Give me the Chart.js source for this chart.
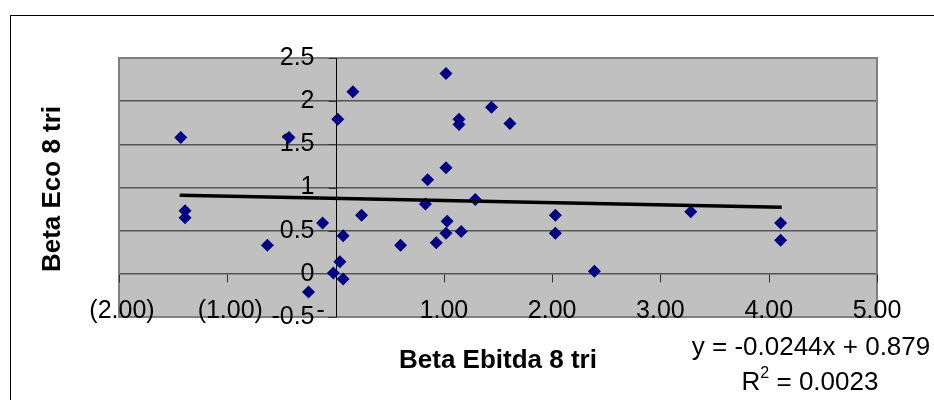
<!DOCTYPE html>
<html>
<head>
<meta charset="utf-8">
<title>Beta Eco x Beta Ebitda</title>
<script src="https://cdn.jsdelivr.net/npm/chart.js@4.4.1/dist/chart.umd.min.js"></script>
<style>
  html, body { margin: 0; padding: 0; background: #fff; }
  #wrap { width: 934px; height: 400px; }
</style>
</head>
<body>
<div id="wrap"><canvas id="betaChart" width="934" height="400"></canvas></div>
<script>
// Data
const betaEbitda = [-1.43, -0.43, 0.02, 0.16, -1.39, -1.39, -0.63, -0.12, -0.25, 0.07, 0.24, 0.04,
  -0.02, 0.07, 1.02, 1.44, 1.14, 1.14, 1.61, 1.02, 0.85, 0.83, 1.29, 0.60, 1.03, 1.02, 0.93, 1.16,
  2.03, 2.03, 2.39, 3.28, 4.11, 4.11];
const betaEco = [1.58, 1.58, 1.79, 2.11, 0.73, 0.65, 0.33, 0.59, -0.21, 0.44, 0.68, 0.14,
  0.01, -0.06, 2.32, 1.93, 1.79, 1.73, 1.74, 1.23, 1.09, 0.81, 0.86, 0.33, 0.61, 0.47, 0.36, 0.49,
  0.68, 0.47, 0.03, 0.72, 0.59, 0.39];

// Linear trendline end points (as drawn)
const trendX = [-1.44, 4.12];
const trendY = [0.91, 0.77];

const xTicks = [-2, -1, 0, 1, 2, 3, 4, 5];
const xTickLabels = ["(2.00)", "(1.00)", "-", "1.00", "2.00", "3.00", "4.00", "5.00"];
const yTicks = [-0.5, 0, 0.5, 1, 1.5, 2, 2.5];
const yTickLabels = ["-0.5", "0", "0.5", "1", "1.5", "2", "2.5"];

const xTitle = "Beta Ebitda 8 tri";
const yTitle = "Beta Eco 8 tri";
const equation = "y = -0.0244x + 0.879";
const r2Value = "0.0023";

const FONT = '"Liberation Sans", Arial, sans-serif';

function line(ctx, x1, y1, x2, y2) {
  ctx.beginPath();
  ctx.moveTo(x1, y1);
  ctx.lineTo(x2, y2);
  ctx.stroke();
}

// excel-ish plot area, axis crossing at 0 and texts
const excelLook = {
  id: 'excelLook',
  beforeDraw(chart) {
    const { ctx, chartArea: a } = chart;
    ctx.save();
    ctx.fillStyle = '#fff';
    ctx.fillRect(0, 0, chart.width, chart.height);
    ctx.fillStyle = '#c0c0c0';
    ctx.fillRect(a.left, a.top, a.right - a.left, a.bottom - a.top);
    ctx.restore();
  },
  beforeDatasetsDraw(chart) {
    const { ctx, chartArea: a, scales: { x, y } } = chart;
    ctx.save();

    // plot area border
    ctx.strokeStyle = '#808080';
    ctx.lineWidth = 2;
    ctx.strokeRect(a.left, a.top, a.right - a.left, a.bottom - a.top);

    // vertical axis sits at x = 0
    const x0 = Math.round(x.getPixelForValue(0)) + 0.5;
    const y0 = Math.round(y.getPixelForValue(0)) + 0.5;
    ctx.strokeStyle = '#000';
    ctx.lineWidth = 1;
    line(ctx, x0, a.top, x0, a.bottom);

    // tick marks
    ctx.strokeStyle = '#333';
    yTicks.forEach(v => {
      const py = Math.round(y.getPixelForValue(v)) + 0.5;
      line(ctx, x0 - 8, py, x0, py);
    });
    xTicks.forEach(v => {
      if (v === 0) return;
      const px = Math.round(x.getPixelForValue(v)) + 0.5;
      line(ctx, px, y0, px, y0 + 8);
    });

    // tick labels
    ctx.fillStyle = '#000';
    ctx.font = '25px ' + FONT;
    ctx.textBaseline = 'middle';
    ctx.textAlign = 'right';
    yTicks.forEach((v, i) => ctx.fillText(yTickLabels[i], x0 - 22, y.getPixelForValue(v)));
    ctx.textAlign = 'center';
    xTicks.forEach((v, i) => {
      const shift = v === 0 ? -15 : (v < 0 ? 3 : 0); // accounting-style labels
      ctx.fillText(xTickLabels[i], x.getPixelForValue(v) + shift, a.bottom - 6);
    });
    ctx.restore();
  },
  afterDraw(chart) {
    const { ctx } = chart;
    ctx.save();
    ctx.fillStyle = '#000';
    ctx.textAlign = 'center';
    ctx.textBaseline = 'middle';

    // axis titles
    ctx.font = 'bold 26px ' + FONT;
    ctx.fillText(xTitle, 498, 361);
    ctx.save();
    ctx.translate(53, 189);
    ctx.rotate(-Math.PI / 2);
    ctx.fillText(yTitle, 0, 0);
    ctx.restore();

    // trendline equation
    ctx.font = '26px ' + FONT;
    ctx.fillText(equation, 811, 348);
    const rest = ' = ' + r2Value;
    ctx.textAlign = 'left';
    const wR = ctx.measureText('R').width;
    const wRest = ctx.measureText(rest).width;
    ctx.font = '16px ' + FONT;
    const wSup = ctx.measureText('2').width;
    let sx = 810 - (wR + wSup + wRest) / 2;
    ctx.font = '26px ' + FONT;
    ctx.fillText('R', sx, 383);
    ctx.font = '16px ' + FONT;
    ctx.fillText('2', sx + wR, 374);
    ctx.font = '26px ' + FONT;
    ctx.fillText(rest, sx + wR + wSup, 383);

    // chart border (runs off the page at right and bottom)
    ctx.strokeStyle = '#000';
    ctx.lineWidth = 1;
    ctx.strokeRect(10.5, 15.5, 1000, 500);
    ctx.restore();
  }
};

const ctx = document.getElementById('betaChart').getContext('2d');
new Chart(ctx, {
  type: 'scatter',
  data: {
    datasets: [
      {
        type: 'line',
        label: 'Linear',
        data: trendX.map((v, i) => ({ x: v, y: trendY[i] })),
        borderColor: '#000',
        borderWidth: 3.5,
        pointRadius: 0,
        fill: false,
        order: 0
      },
      {
        label: yTitle,
        data: betaEbitda.map((v, i) => ({ x: v, y: betaEco[i] })),
        pointStyle: 'rectRot',
        pointRadius: 6.5,
        backgroundColor: '#000080',
        borderColor: '#000080',
        borderWidth: 0,
        order: 1
      }
    ]
  },
  options: {
    responsive: false,
    devicePixelRatio: 1,
    animation: false,
    layout: { padding: { left: 119, top: 58, right: 57, bottom: 83 } },
    plugins: {
      legend: { display: false },
      tooltip: { enabled: false }
    },
    scales: {
      x: {
        type: 'linear',
        display: false,
        min: -2,
        max: 5
      },
      y: {
        type: 'linear',
        min: -0.5,
        max: 2.5,
        ticks: { display: false, stepSize: 0.5 },
        grid: { color: '#555', lineWidth: 1.5, drawTicks: false },
        border: { display: false }
      }
    }
  },
  plugins: [excelLook]
});
</script>
</body>
</html>
